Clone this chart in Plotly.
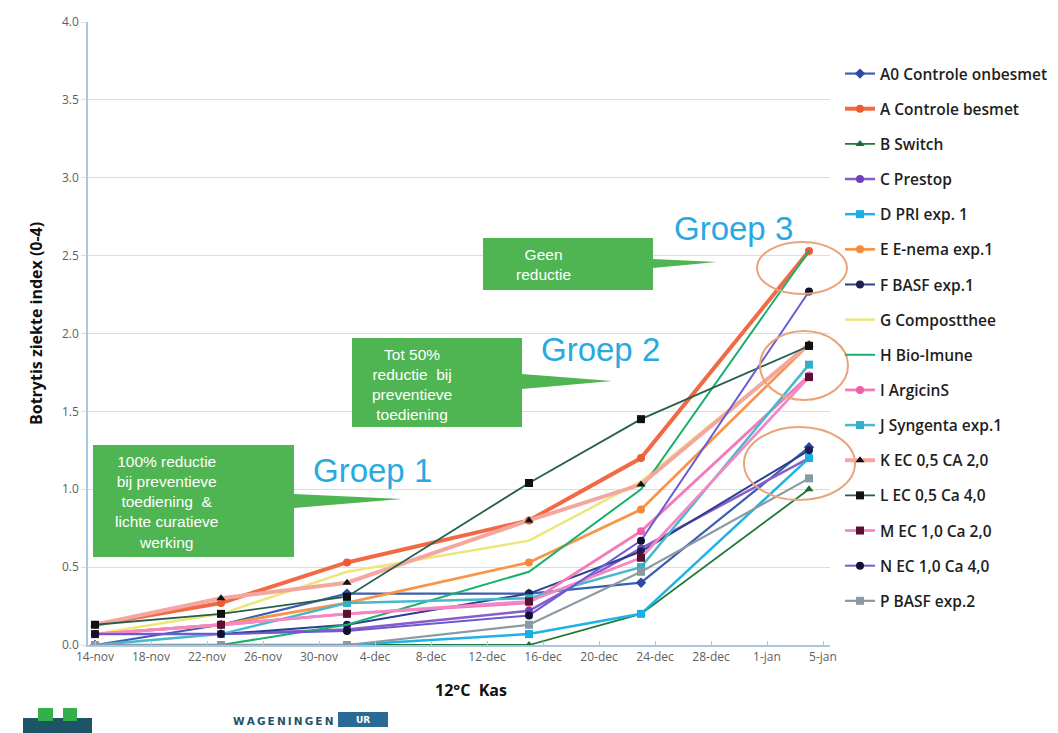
import plotly.graph_objects as go

# --- data -------------------------------------------------------------------
dates = ["2011-11-14", "2011-11-23", "2011-12-02", "2011-12-15", "2011-12-23", "2012-01-04"]

a0_onbesmet = [0.00, 0.13, 0.33, 0.33, 0.40, 1.27]
a_besmet = [0.13, 0.27, 0.53, 0.80, 1.20, 2.53]
b_switch = [0.00, 0.00, 0.00, 0.00, 0.20, 1.00]
c_prestop = [0.07, 0.07, 0.10, 0.22, 0.62, 1.20]
d_pri = [0.00, 0.00, 0.00, 0.07, 0.20, 1.20]
e_enema = [0.07, 0.13, 0.27, 0.53, 0.87, 1.93]
f_basf = [0.07, 0.07, 0.13, 0.33, 0.60, 1.25]
g_compost = [0.07, 0.20, 0.47, 0.67, 1.05, 1.93]
h_bioimune = [0.00, 0.00, 0.13, 0.47, 1.00, 2.53]
i_argicins = [0.07, 0.13, 0.20, 0.27, 0.73, 1.73]
j_syngenta = [0.00, 0.07, 0.27, 0.30, 0.50, 1.80]
k_ec05_ca2 = [0.13, 0.30, 0.40, 0.80, 1.03, 1.93]
l_ec05_ca4 = [0.13, 0.20, 0.31, 1.04, 1.45, 1.92]
m_ec10_ca2 = [0.07, 0.13, 0.20, 0.28, 0.56, 1.72]
n_ec10_ca4 = [0.07, 0.07, 0.09, 0.19, 0.67, 2.27]
p_basf2 = [0.00, 0.00, 0.00, 0.13, 0.47, 1.07]

tick_dates = ["2011-11-14", "2011-11-18", "2011-11-22", "2011-11-26", "2011-11-30",
              "2011-12-04", "2011-12-08", "2011-12-12", "2011-12-16", "2011-12-20",
              "2011-12-24", "2011-12-28", "2012-01-01", "2012-01-05"]
tick_labels = ["14-nov", "18-nov", "22-nov", "26-nov", "30-nov", "4-dec", "8-dec",
               "12-dec", "16-dec", "20-dec", "24-dec", "28-dec", "1-jan", "5-jan"]

# name, values, line colour, width, marker symbol, marker colour
series = [
    ("A0 Controle onbesmet", a0_onbesmet, "#3d5fb0", 2.2, "diamond", "#2b4aa0"),
    ("A Controle besmet", a_besmet, "#f26a45", 4, "circle", "#f05a30"),
    ("B Switch", b_switch, "#1f7a3a", 1.8, "triangle-up", "#1f6a30"),
    ("C Prestop", c_prestop, "#8a5cc8", 2.5, "circle", "#7040b8"),
    ("D PRI exp. 1", d_pri, "#1eb2e8", 2.5, "square", "#18aee6"),
    ("E E-nema exp.1", e_enema, "#f7954a", 2.8, "circle", "#f58a3a"),
    ("F BASF exp.1", f_basf, "#2a3f8f", 2, "circle", "#1a2050"),
    ("G Compostthee", g_compost, "#ece77a", 2.5, None, None),
    ("H Bio-Imune", h_bioimune, "#19b06e", 2, None, None),
    ("I ArgicinS", i_argicins, "#f47ab8", 2.8, "circle", "#f060a8"),
    ("J Syngenta exp.1", j_syngenta, "#48b8cc", 2.5, "square", "#30b0c8"),
    ("K EC 0,5 CA 2,0", k_ec05_ca2, "#f4a79f", 4, "triangle-up", "#111111"),
    ("L EC 0,5 Ca 4,0", l_ec05_ca4, "#27604a", 1.8, "square", "#111111"),
    ("M EC 1,0 Ca 2,0", m_ec10_ca2, "#f288c4", 2.8, "square", "#5a1030"),
    ("N EC 1,0 Ca 4,0", n_ec10_ca4, "#6c5ad4", 2, "circle", "#101030"),
    ("P BASF exp.2", p_basf2, "#8b9aa2", 2.2, "square", "#8b9aa2"),
]

fig = go.Figure()
for i, (name, vals, col, w, sym, mcol) in enumerate(series):
    mode = "lines+markers" if sym else "lines"
    fig.add_trace(go.Scatter(
        x=dates, y=vals, name=name, mode=mode, legendgroup=f"g{i}",
        line=dict(color=col, width=w),
        marker=dict(symbol=sym or "circle", size=8, color=mcol, line=dict(width=0)),
    ))

# page pixel box of the plot area (page has an 8px body margin)
L, R, T, B = 88, 830, 22, 645
W, H = R - L, B - T
OFF = 8


def px(x, y):
    return (x - L) / W, (B - y) / H


def label(x, y, text, **font):
    ax, ay = px(x, y)
    angle = font.pop("angle", 0)
    fig.add_annotation(x=ax, y=ay, xref="paper", yref="paper", text=text, showarrow=False,
                       xanchor="center", yanchor="middle", align="center",
                       textangle=angle, font=font)


def callout_path(x0, y0, x1, y1, ty0, ty1, tipx, tipy):
    pts = [(x0, y0), (x1, y0), (x1, ty0), (tipx, tipy), (x1, ty1), (x1, y1), (x0, y1)]
    return "M " + " L ".join("%.4f,%.4f" % px(a, b) for a, b in pts) + " Z"


green = "#4fb552"
callouts = [
    (93, 445, 294, 557, 494, 508, 402, 499),
    (352, 338, 522, 427, 374, 389, 612, 381),
    (483, 238, 653, 290, 259, 268, 717, 262),
]
for c in callouts:
    fig.add_shape(type="path", path=callout_path(*c), xref="paper", yref="paper",
                  fillcolor=green, line=dict(width=0), layer="above")

callout_texts = [
    (166, 502, "100% reductie<br>bij preventieve<br>toediening  &amp;<br>lichte curatieve<br>werking"),
    (412, 384, "Tot 50%<br>reductie  bij<br>preventieve<br>toediening"),
    (543, 264, "Geen<br>reductie"),
]
for x, y, t in callout_texts:
    label(x, y, t, family="Liberation Sans, Arial", size=15.5, color="white")

for x, y, t in [(372, 470, "Groep 1"), (600, 349, "Groep 2"), (733, 229, "Groep 3")]:
    label(x, y, t, family="Liberation Sans, Arial", size=33, color="#2aa9e0")

for x0, y0, x1, y1 in [(757, 242, 847, 294), (760, 331, 848, 400), (744, 427, 855, 500)]:
    a, b = px(x0, y1)
    c, d = px(x1, y0)
    fig.add_shape(type="circle", xref="paper", yref="paper", x0=a, y0=b, x1=c, y1=d,
                  line=dict(color="#e9a47a", width=2))

# axis titles
label(36, 324, "<b>Botrytis ziekte index (0-4)</b>", family="Open Sans", size=16,
      color="#111111", angle=-90)
label(471, 690, "<b>12°C  Kas</b>", family="Open Sans", size=16, color="#111111")

# --- logos at bottom -----------------------------------------------------------
for x0, y0, x1, y1, col in [(23, 718, 92, 733, "#1d5468"), (38, 708, 53, 721, "#33b04a"),
                            (63, 708, 77, 721, "#33b04a"), (338, 712, 388, 727, "#2a6a96")]:
    a, b = px(x0, y1)
    c, d = px(x1, y0)
    fig.add_shape(type="rect", xref="paper", yref="paper", x0=a, y0=b, x1=c, y1=d,
                  fillcolor=col, line=dict(width=0))
label(283, 721, "\u2009".join("WAGENINGEN"), family="DejaVu Sans", size=10.5,
      color="#1d5468", weight="bold")
label(363, 720, "UR", family="DejaVu Sans", size=9, color="white", weight="bold")

fig.update_layout(
    width=1058 - OFF, height=733 - OFF,
    margin=dict(l=L - OFF, r=1058 - R, t=T - OFF, b=733 - B, autoexpand=False),
    paper_bgcolor="white", plot_bgcolor="white",
    font=dict(family="Open Sans, sans-serif", color="#222222"),
    showlegend=True,
    legend=dict(x=(840 - L) / W, y=(B - 57) / H, xanchor="left", yanchor="top",
                font=dict(size=15.5, color="#1e1e1e", weight=600), tracegroupgap=12,
                bgcolor="rgba(0,0,0,0)", itemwidth=30),
    xaxis=dict(
        range=["2011-11-13 12:00", "2012-01-05 12:00"],
        tickvals=tick_dates, ticktext=tick_labels, tickangle=0,
        showgrid=False, showline=True, linecolor="#a9c8e0", linewidth=1.5,
        ticks="inside", ticklen=4, tickcolor="#a9c8e0",
        tickfont=dict(size=12, color="#606060"),
    ),
    yaxis=dict(
        range=[0, 4], tickvals=[0, 0.5, 1, 1.5, 2, 2.5, 3, 3.5, 4],
        tickformat=".1f", showgrid=True, gridcolor="#cfe0ec", gridwidth=1,
        showline=True, linecolor="#a9c8e0", linewidth=1.5, zeroline=False,
        ticks="outside", ticklen=5, tickcolor="#cfe0ec",
        tickfont=dict(size=12, color="#606060"),
    ),
)

fig.write_html("out.html")
